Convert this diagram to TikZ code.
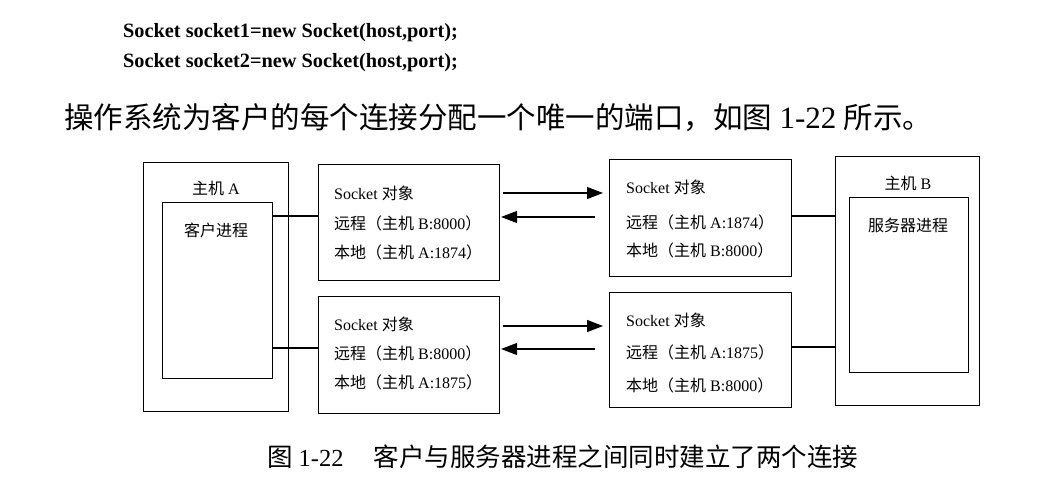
\documentclass[tikz,border=0pt]{standalone}
\usepackage{fontspec}
\setmainfont{Liberation Serif}
\newfontfamily\cjk{Noto Sans CJK SC}
\newcommand\zh[1]{{\cjk #1}}
\usetikzlibrary{arrows.meta}
\begin{document}
\begin{tikzpicture}[x=1pt,y=-1pt,
  box/.style={draw, line width=1.1pt, inner sep=0pt, anchor=north west},
  lbl/.style={inner sep=0pt, font=\fontsize{16}{19}\selectfont},
  txt/.style={lbl, anchor=west},
  link/.style={line width=1.1pt},
  arr/.style={line width=1.1pt, -{Triangle[length=16pt,width=12pt]}}]
\useasboundingbox (0,0) rectangle (1057,492);

% code lines and introductory sentence
\node[inner sep=0pt, anchor=base west, font=\fontsize{20.3}{24}\selectfont\bfseries]
  (code1) at (123,38) {Socket socket1=new Socket(host,port);};
\node[inner sep=0pt, anchor=base west, font=\fontsize{20.3}{24}\selectfont\bfseries]
  (code2) at (123,68) {Socket socket2=new Socket(host,port);};
\node[inner sep=0pt, anchor=west, font=\fontsize{29.5}{34}\selectfont]
  (intro) at (64,118) {\zh{操作系统为客户的每个连接分配一个唯一的端口，如图} {\fontsize{31}{34}\selectfont 1-22} \zh{所示。}};

% hosts and processes
\node[box, minimum width=145pt, minimum height=249pt] (hostA) at (143,162) {};
\node[box, minimum width=110pt, minimum height=176pt] (clientP) at (162,202) {};
\node[lbl] (hostAlbl) at (216,188) {\zh{主机} A};
\node[lbl] (clientlbl) at (216,230) {\zh{客户进程}};

\node[box, minimum width=144pt, minimum height=249pt] (hostB) at (835,156) {};
\node[box, minimum width=119pt, minimum height=175pt] (serverP) at (849,197) {};
\node[lbl] (hostBlbl) at (908,183) {\zh{主机} B};
\node[lbl] (serverlbl) at (908,225) {\zh{服务器进程}};

% socket objects
\node[box, minimum width=181pt, minimum height=116pt] (sockA1) at (318,164) {};
\node[box, minimum width=181pt, minimum height=117pt] (sockA2) at (318,296) {};
\node[box, minimum width=182pt, minimum height=117pt] (sockB1) at (609,159) {};
\node[box, minimum width=182pt, minimum height=115pt] (sockB2) at (609,292) {};

\node[txt] (a1t) at (334,193) {Socket \zh{对象}};
\node[txt] (a1r) at (334,223) {\zh{远程（主机} B:8000\zh{）}};
\node[txt] (a1l) at (334,252) {\zh{本地（主机} A:1874\zh{）}};

\node[txt] (a2t) at (334,324) {Socket \zh{对象}};
\node[txt] (a2r) at (334,353) {\zh{远程（主机} B:8000\zh{）}};
\node[txt] (a2l) at (334,382) {\zh{本地（主机} A:1875\zh{）}};

\node[txt] (b1t) at (626,187) {Socket \zh{对象}};
\node[txt] (b1r) at (626,222) {\zh{远程（主机} A:1874\zh{）}};
\node[txt] (b1l) at (626,250) {\zh{本地（主机} B:8000\zh{）}};

\node[txt] (b2t) at (626,320) {Socket \zh{对象}};
\node[txt] (b2r) at (626,352) {\zh{远程（主机} A:1875\zh{）}};
\node[txt] (b2l) at (626,385) {\zh{本地（主机} B:8000\zh{）}};

% process-to-socket links
\draw[link] (clientP.east |- 0,216) -- (sockA1.west |- 0,216);
\draw[link] (clientP.east |- 0,348) -- (sockA2.west |- 0,348);
\draw[link] (sockB1.east |- 0,216) -- (hostB.west |- 0,216);
\draw[link] (sockB2.east |- 0,347) -- (hostB.west |- 0,347);

% data flow between the socket pairs
\draw[arr, shorten <=3pt, shorten >=6pt] (sockA1.east |- 0,193) -- (sockB1.west |- 0,193);
\draw[arr, shorten <=14pt, shorten >=1pt] (sockB1.west |- 0,217) -- (sockA1.east |- 0,217);
\draw[arr, shorten <=3pt, shorten >=6pt] (sockA2.east |- 0,326) -- (sockB2.west |- 0,326);
\draw[arr, shorten <=14pt, shorten >=1pt] (sockB2.west |- 0,349) -- (sockA2.east |- 0,349);

% caption
\node[inner sep=0pt, anchor=west, font=\fontsize{25.5}{30}\selectfont] (cap) at (267,457)
  {\zh{图}\hspace{6pt}{\fontsize{24.5}{30}\selectfont 1-22}\hspace{30pt}\zh{客户与服务器进程之间同时建立了两个连接}};
\end{tikzpicture}
\end{document}
